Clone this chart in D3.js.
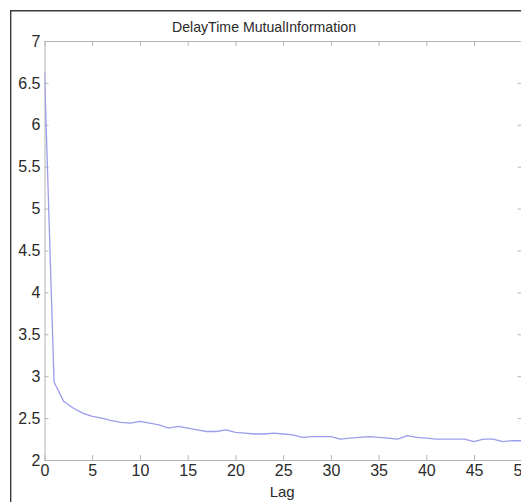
<!DOCTYPE html>
<html>
<head>
<meta charset="utf-8">
<script src="https://cdn.jsdelivr.net/npm/d3@7"></script>
<style>
body { margin: 0; background: #fff; }
text { font-family: "Liberation Sans", Arial, sans-serif; fill: #2a2a2a; }
</style>
</head>
<body>
<svg id="chart" width="521" height="502"></svg>
<script>

// mutual information per lag
var lags = d3.range(0, 51);
var mutualInfo = [6.63, 2.93, 2.70, 2.62, 2.56, 2.52, 2.50, 2.47, 2.45, 2.44,
    2.46, 2.44, 2.42, 2.38, 2.40, 2.38, 2.36, 2.34, 2.34, 2.36,
    2.33, 2.32, 2.31, 2.31, 2.32, 2.31, 2.30, 2.27, 2.28, 2.28,
    2.28, 2.25, 2.26, 2.27, 2.28, 2.27, 2.26, 2.25, 2.29, 2.27,
    2.26, 2.25, 2.25, 2.25, 2.25, 2.22, 2.25, 2.25, 2.22, 2.23, 2.23];
var xTicks = [0, 5, 10, 15, 20, 25, 30, 35, 40, 45, 50];
var yTicks = [2, 2.5, 3, 3.5, 4, 4.5, 5, 5.5, 6, 6.5, 7];

// plot box (window.top is reserved, so no plain "top")
var box = {left: 44.5, right: 521.8, top: 41, bottom: 460};

var x = d3.scaleLinear().domain([0, 50]).range([box.left, box.right]);
var y = d3.scaleLinear().domain([2, 7]).range([box.bottom, box.top]);

var svg = d3.select("#chart");
var fmt = d3.format("~g");

// figure frame (right and bottom are cut off in the original)
svg.append("path")
.attr("d", "M10.7,502V10.7H521")
.attr("fill", "none")
.attr("stroke", "#3a3a3a")
.attr("stroke-width", 1.4);

function styleAxis(g) {
g.select(".domain").attr("stroke", "#b4b4b4");
g.selectAll(".tick line").attr("stroke", "#b4b4b4");
g.selectAll(".tick text").style("font-size", "16px").attr("fill", "#2a2a2a");
}

svg.append("g")
.attr("transform", "translate(0," + box.bottom + ")")
.call(d3.axisBottom(x).tickValues(xTicks).tickFormat(fmt).tickSizeInner(-5).tickSizeOuter(0).tickPadding(5))
.call(styleAxis);

svg.append("g")
.attr("transform", "translate(0," + box.top + ")")
.call(d3.axisTop(x).tickValues(xTicks).tickSizeInner(-5).tickSizeOuter(0).tickFormat(function() { return ""; }))
.call(styleAxis);

svg.append("g")
.attr("transform", "translate(" + box.left + ",0)")
.call(d3.axisLeft(y).tickValues(yTicks).tickFormat(fmt).tickSizeInner(-4).tickSizeOuter(0).tickPadding(4))
.call(styleAxis);

svg.append("g")
.attr("transform", "translate(" + box.right + ",0)")
.call(d3.axisRight(y).tickValues(yTicks).tickSizeInner(-4).tickSizeOuter(0).tickFormat(function() { return ""; }))
.call(styleAxis);

svg.append("defs").append("clipPath")
.attr("id", "plotArea")
.append("rect")
.attr("x", box.left).attr("y", box.top)
.attr("width", box.right - box.left).attr("height", box.bottom - box.top);

var line = d3.line()
.x(function(d, i) { return x(lags[i]); })
.y(function(d) { return y(d); });

svg.append("path")
.datum(mutualInfo)
.attr("clip-path", "url(#plotArea)")
.attr("fill", "none")
.attr("stroke", "#9c9cec")
.attr("stroke-width", 1.3)
.attr("stroke-linejoin", "round")
.attr("d", line);

svg.append("text")
.attr("x", 264)
.attr("y", 31.5)
.attr("text-anchor", "middle")
.attr("textLength", 184)
.attr("lengthAdjust", "spacingAndGlyphs")
.style("font-size", "15px")
.text("DelayTime MutualInformation");

svg.append("text")
.attr("x", (box.left + box.right) / 2 - 1)
.attr("y", 497)
.attr("text-anchor", "middle")
.style("font-size", "15px")
.text("Lag");

</script>
</body>
</html>
